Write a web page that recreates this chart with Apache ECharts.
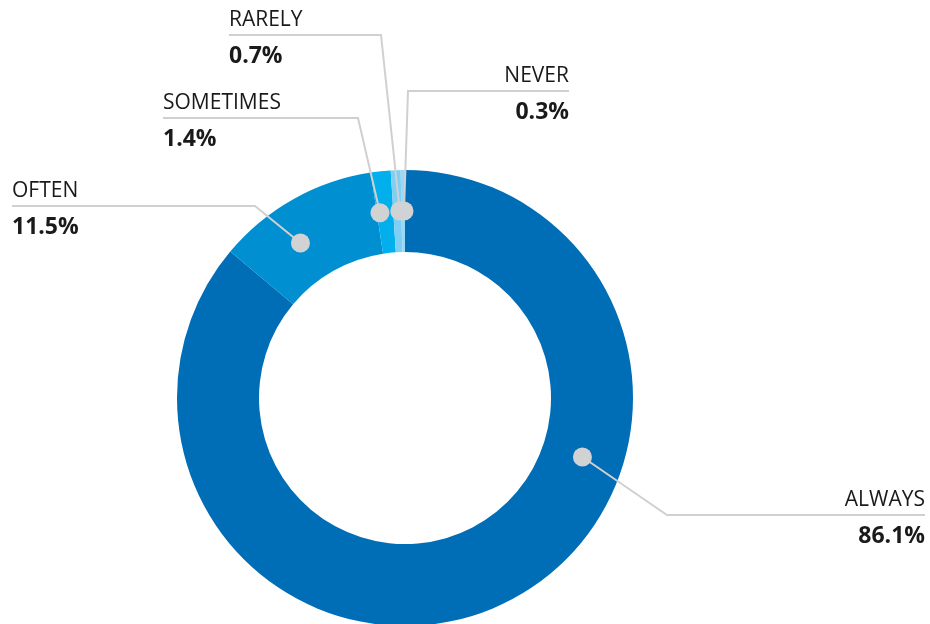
<!DOCTYPE html>
<html>
<head>
<meta charset="utf-8">
<script src="https://cdn.jsdelivr.net/npm/echarts@6/dist/echarts.min.js"></script>
<style>html,body{margin:0;padding:0;background:#fff}#c{width:930px;height:624px}</style>
</head>
<body>
<div id="c"></div>
<script>
// Data
const categories = ['ALWAYS', 'OFTEN', 'SOMETIMES', 'RARELY', 'NEVER'];
const values = [86.1, 11.5, 1.4, 0.7, 0.3];
const valueLabels = ['86.1%', '11.5%', '1.4%', '0.7%', '0.3%'];

// Styling / layout
const colors = ['#006db7', '#0090d2', '#00afec', '#7fcff4', '#9ad9f6'];
const CX = 405, CY = 398, R_IN = 146, R_OUT = 228, DOT_R = 187;
const dotAngles = [108.4, 326, 352.3, 358.4, 359.7]; // degrees clockwise from top
const labelPos = [
  {tx: 925, ly: 515, ex: 667, align: 'right'},
  {tx: 12,  ly: 206, ex: 255, align: 'left'},
  {tx: 163, ly: 118, ex: 358, align: 'left'},
  {tx: 229, ly: 35,  ex: 381, align: 'left'},
  {tx: 569, ly: 91,  ex: 408, align: 'right'}
];
function dotXY(i) {
  const a = dotAngles[i] * Math.PI / 180;
  return [CX + DOT_R * Math.sin(a), CY - DOT_R * Math.cos(a)];
}

const FONT = '"Open Sans", sans-serif';
const base = {
  type: 'pie',
  center: [CX, CY],
  radius: [R_IN, R_OUT],
  startAngle: 90,
  clockwise: true,
  avoidLabelOverlap: false,
  silent: true
};

const chart = echarts.init(document.getElementById('c'), null, {renderer: 'canvas'});
chart.setOption({
  animation: false,
  backgroundColor: '#fff',
  series: [
    Object.assign({}, base, {
      z: 1,
      data: categories.map((c, i) => ({name: c, value: values[i], itemStyle: {color: colors[i]}})),
      label: {show: false},
      labelLine: {show: false}
    }),
    Object.assign({}, base, {
      z: 2,
      data: categories.map((c, i) => ({name: c, value: values[i]})),
      itemStyle: {color: 'rgba(0,0,0,0)'},
      label: {
        show: true,
        position: 'outside',
        formatter: p => '{n|' + p.name + '}\n{v|' + valueLabels[p.dataIndex] + '}',
        rich: {
          n: {fontFamily: FONT, fontSize: 21, color: '#1a1a1a', lineHeight: 43},
          v: {fontFamily: FONT, fontSize: 23, fontWeight: 'bold', color: '#1a1a1a', lineHeight: 29}
        }
      },
      labelLine: {show: true, lineStyle: {color: '#d0d0d0', width: 2}},
      labelLayout: function (p) {
        const i = p.dataIndex, L = labelPos[i];
        return {
          x: L.tx, y: L.ly, align: L.align, verticalAlign: 'middle',
          labelLinePoints: [dotXY(i), [L.ex, L.ly], [L.tx, L.ly]]
        };
      }
    }),
    Object.assign({}, base, {
      z: 3,
      data: categories.map((c, i) => ({name: c, value: values[i]})),
      itemStyle: {color: 'rgba(0,0,0,0)'},
      label: {
        show: true,
        position: 'inside',
        formatter: '{d| }',
        rich: {d: {width: 19, height: 19, borderRadius: 10, backgroundColor: '#d1d2d4'}}
      },
      labelLine: {show: false},
      labelLayout: function (p) {
        const xy = dotXY(p.dataIndex);
        return {x: xy[0], y: xy[1], align: 'center', verticalAlign: 'middle'};
      }
    })
  ]
});
</script>
</body>
</html>
